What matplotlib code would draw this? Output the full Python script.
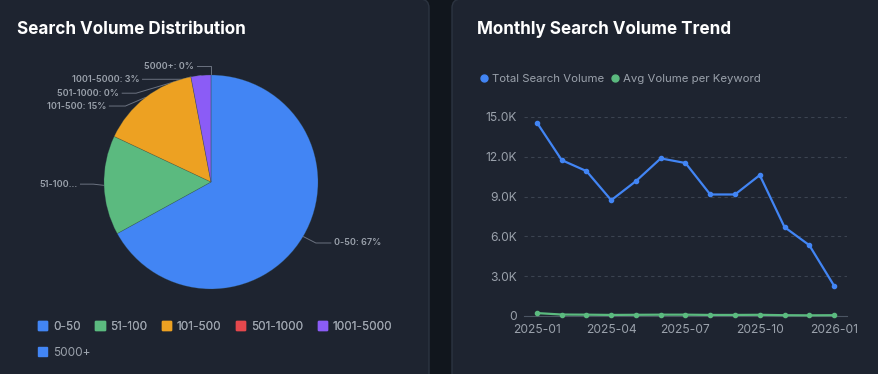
import matplotlib
matplotlib.use("Agg")
import matplotlib.pyplot as plt
import numpy as np
from matplotlib.patches import FancyBboxPatch, Patch
from matplotlib.lines import Line2D

plt.rcParams['font.family'] = ['Inter', 'DejaVu Sans']

# ---- data ----
buckets = ["0-50", "51-100", "101-500", "501-1000", "1001-5000", "5000+"]
bucket_pct = [67, 15, 15, 0, 3, 0]
bucket_labels = ["0-50: 67%", "51-100...", "101-500: 15%", "501-1000: 0%",
                 "1001-5000: 3%", "5000+: 0%"]
bucket_colors = ["#4285f4", "#5bba7f", "#eda122", "#e5484d", "#8b5cf6", "#4285f4"]

months = ["2025-01", "2025-02", "2025-03", "2025-04", "2025-05", "2025-06",
          "2025-07", "2025-08", "2025-09", "2025-10", "2025-11", "2025-12",
          "2026-01"]
total_volume = [14570, 11750, 10920, 8730, 10170, 11880, 11530, 9160, 9160,
                10620, 6700, 5340, 2290]
avg_volume = [220, 110, 100, 80, 90, 100, 100, 80, 80, 90, 60, 50, 60]

# ---- colours ----
bg_gap = "#11161d"
card = "#1e2430"
card_edge = "#2c3441"
text_gray = "#9aa1ab"
grid_col = "#3b4350"

W, H, DPI = 879, 374, 100
fig = plt.figure(figsize=(W / DPI, H / DPI), dpi=DPI)
fig.patch.set_facecolor(bg_gap)

def px(x, y):
    return x / DPI, (H - y) / DPI

# cards (behind everything)
for x0, x1 in [(-20, 429), (452, 900)]:
    l, b = px(x0, H + 20)
    r, t = px(x1, -1)
    fig.add_artist(FancyBboxPatch((l, b), r - l, t - b,
                                  boxstyle="round,pad=0,rounding_size=0.09",
                                  transform=fig.dpi_scale_trans, zorder=-10,
                                  facecolor=card, edgecolor=card_edge, linewidth=1.0))

fig.text(17 / W, 1 - 30 / H, "Search Volume Distribution", color="white",
         fontsize=12.3, fontweight="bold", va="center", ha="left")
fig.text(477 / W, 1 - 30 / H, "Monthly Search Volume Trend", color="white",
         fontsize=12.3, fontweight="bold", va="center", ha="left")

# ---- pie ----
cx, cy, rad = 211, 182, 107
ax1 = fig.add_axes([(cx - rad) / W, (H - cy - rad) / H, 2 * rad / W, 2 * rad / H])
ax1.set_facecolor("none")
wedges, _ = ax1.pie(bucket_pct, colors=bucket_colors, startangle=90,
                    counterclock=False, radius=1.0,
                    wedgeprops=dict(linewidth=0.5, edgecolor=(0.2, 0.3, 0.3, 0.35)))
ax1.set_xlim(-1, 1)
ax1.set_ylim(-1, 1)
ax1.set_aspect("equal")
ax1.axis("off")

# label layout: text x (end nearest the line), text y, elbow x, side
label_layout = [
    (1.12, -0.57, 0.98, "left"),
    (-1.22, -0.02, -1.10, "right"),
    (-0.95, 0.71, -0.80, "right"),
    (-0.83, 0.83, -0.70, "right"),
    (-0.64, 0.96, -0.25, "right"),
    (-0.13, 1.08, 0.0, "right"),
]
for w, lab, (tx, ty, ex, side) in zip(wedges, bucket_labels, label_layout):
    mid = np.deg2rad((w.theta1 + w.theta2) / 2)
    axp, ayp = np.cos(mid), np.sin(mid)
    ax1.plot([axp, ex, tx], [ayp, ty, ty], color="#6b7280", lw=0.7,
             clip_on=False, zorder=0)
    gap = 0.03 if side == "left" else -0.03
    ax1.text(tx + gap, ty, lab, color=text_gray, fontsize=6.5,
             fontweight="semibold", ha=side, va="center", clip_on=False)

handles = [Patch(facecolor=c, edgecolor=c, label=b)
           for b, c in zip(buckets, bucket_colors)]
leg1 = fig.legend(handles=handles[:5], loc="center left",
                  bbox_to_anchor=(38 / W, 1 - 327 / H), ncol=5, frameon=False,
                  fontsize=8.5, labelcolor=text_gray, handlelength=0.8,
                  handleheight=0.8, handletextpad=0.45, columnspacing=1.25,
                  borderpad=0, borderaxespad=0)
fig.add_artist(leg1)
fig.legend(handles=handles[5:], loc="center left",
           bbox_to_anchor=(38 / W, 1 - 353 / H), ncol=1, frameon=False,
           fontsize=8.5, labelcolor=text_gray, handlelength=0.8,
           handleheight=0.8, handletextpad=0.45, borderpad=0, borderaxespad=0)

# ---- line chart ----
ax2 = fig.add_axes([524 / W, (H - 316) / H, 323 / W, 199 / H])
ax2.set_facecolor("none")
xs = np.arange(len(months))
blue = "#4285f4"
green = "#5bba7f"
ax2.plot(xs, total_volume, color=blue, lw=1.6, marker="o", markersize=3,
         zorder=3, clip_on=False)
ax2.plot(xs, avg_volume, color=green, lw=1.6, marker="o", markersize=3,
         zorder=3, clip_on=False)
ax2.set_xlim(-0.525, len(months) - 1 + 0.525)
ax2.set_ylim(0, 15000)
yt = [0, 3000, 6000, 9000, 12000, 15000]
ax2.set_yticks(yt)
ax2.set_yticklabels(["0" if v == 0 else f"{v / 1000:.1f}K" for v in yt])
ax2.set_xticks(xs[::3])
ax2.set_xticklabels(months[::3])
ax2.tick_params(axis="both", length=0, colors=text_gray, labelsize=8.7)
ax2.tick_params(axis="y", pad=5)
ax2.tick_params(axis="x", pad=6)
ax2.grid(axis="y", color=grid_col, linestyle=(0, (3, 3)), linewidth=0.8)
ax2.set_axisbelow(True)
for s in ["top", "right", "left"]:
    ax2.spines[s].set_visible(False)
ax2.spines["bottom"].set_color("#4b5563")
ax2.spines["bottom"].set_linewidth(0.8)

leg_h = [Line2D([], [], marker="o", color=blue, linestyle="none", markersize=5,
                label="Total Search Volume"),
         Line2D([], [], marker="o", color=green, linestyle="none", markersize=5,
                label="Avg Volume per Keyword")]
fig.legend(handles=leg_h, loc="center left", bbox_to_anchor=(481 / W, 1 - 79 / H),
           ncol=2, frameon=False, fontsize=8.2, labelcolor=text_gray,
           handlelength=0.6, handletextpad=0.4, columnspacing=0.6,
           borderpad=0, borderaxespad=0)

fig.savefig("out.png", dpi=DPI, facecolor=fig.get_facecolor())
